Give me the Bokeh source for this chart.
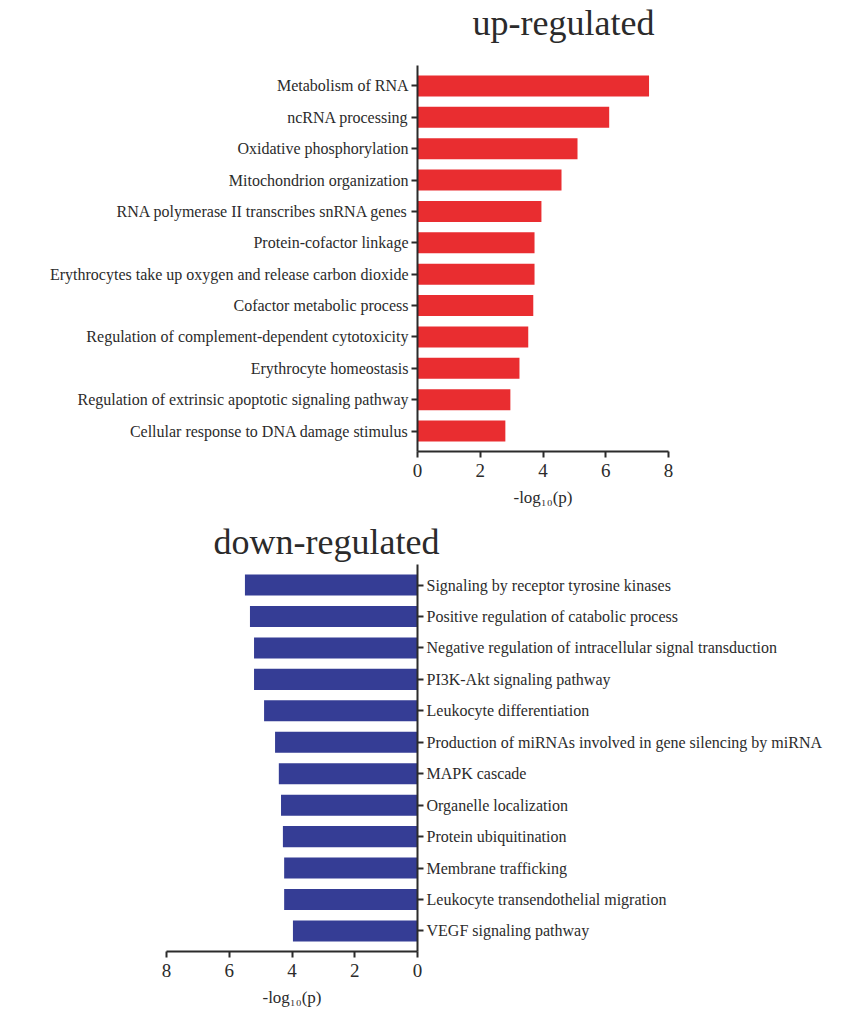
from bokeh.plotting import figure
from bokeh.models import FactorRange, Range1d, FixedTicker
from bokeh.embed import file_html
from bokeh.resources import INLINE

# Enriched terms, listed top to bottom, with -log10(p) scores
up_terms = [
    "Metabolism of RNA",
    "ncRNA processing",
    "Oxidative phosphorylation",
    "Mitochondrion organization",
    "RNA polymerase II transcribes snRNA genes",
    "Protein-cofactor linkage",
    "Erythrocytes take up oxygen and release carbon dioxide",
    "Cofactor metabolic process",
    "Regulation of complement-dependent cytotoxicity",
    "Erythrocyte homeostasis",
    "Regulation of extrinsic apoptotic signaling pathway",
    "Cellular response to DNA damage stimulus",
]
up_values = [7.38, 6.11, 5.10, 4.59, 3.95, 3.73, 3.73, 3.69, 3.53, 3.25, 2.96, 2.80]

down_terms = [
    "Signaling by receptor tyrosine kinases",
    "Positive regulation of catabolic process",
    "Negative regulation of intracellular signal transduction",
    "PI3K-Akt signaling pathway",
    "Leukocyte differentiation",
    "Production of miRNAs involved in gene silencing by miRNA",
    "MAPK cascade",
    "Organelle localization",
    "Protein ubiquitination",
    "Membrane trafficking",
    "Leukocyte transendothelial migration",
    "VEGF signaling pathway",
]
down_values = [5.50, 5.34, 5.21, 5.21, 4.89, 4.54, 4.42, 4.35, 4.29, 4.25, 4.25, 3.97]

x_ticks = [0, 2, 4, 6, 8]
x_label = "-log\u2081\u2080(p)"

SERIF = "Liberation Serif"
INK = "#2b2b2b"
UP_COLOR = "#e92d30"
DOWN_COLOR = "#353d95"
WIDTH = 862


def style_title(p, offset, standoff, valign):
    p.title.text_font = SERIF
    p.title.text_font_size = "36px"
    p.title.text_font_style = "normal"
    p.title.text_color = INK
    p.title.align = "left"
    p.title.offset = offset
    p.title.standoff = standoff
    p.title.vertical_align = valign


def style(p):
    p.outline_line_color = None
    p.xgrid.grid_line_color = None
    p.ygrid.grid_line_color = None
    p.background_fill_color = "white"
    p.border_fill_color = "white"
    for ax in p.axis:
        ax.axis_line_color = INK
        ax.axis_line_width = 2
        ax.major_tick_line_color = INK
        ax.major_tick_line_width = 2
        ax.major_tick_in = 0
        ax.minor_tick_line_color = None
        ax.major_label_text_color = INK
        ax.major_label_text_font = SERIF
    p.xaxis.ticker = FixedTicker(ticks=x_ticks)
    p.xaxis.major_tick_out = 6
    p.xaxis.major_label_text_font_size = "19px"
    p.xaxis.major_label_standoff = 6
    p.xaxis.axis_label = x_label
    p.xaxis.axis_label_text_font = SERIF
    p.xaxis.axis_label_text_font_size = "17px"
    p.xaxis.axis_label_text_font_style = "normal"
    p.xaxis.axis_label_text_color = INK
    p.xaxis.axis_label_standoff = 8
    p.yaxis.major_tick_out = 6
    p.yaxis.major_label_text_font_size = "16px"
    p.yaxis.major_label_standoff = 3


# Heading strip for the upper panel
header = figure(
    width=WIDTH, height=50,
    x_axis_location=None, y_axis_location=None,
    output_backend="svg", toolbar_location=None,
    min_border_left=417, min_border_right=194,
    min_border_top=0, min_border_bottom=0,
    title="up-regulated",
)
header.outline_line_color = None
header.grid.grid_line_color = None
header.border_fill_color = "white"
style_title(header, 55, 4, "top")

# Upper panel: up-regulated terms, bars growing to the right
up = figure(
    width=WIDTH, height=465,
    y_range=FactorRange(factors=up_terms[::-1], range_padding=0.0255),
    x_range=Range1d(0, 8),
    output_backend="svg", toolbar_location=None,
    min_border_left=417, min_border_right=194,
    min_border_top=15, min_border_bottom=64,
)
up.hbar(y=up_terms, right=up_values, left=0, height=0.67,
        fill_color=UP_COLOR, line_color=None)
style(up)

# Lower panel: down-regulated terms, mirrored axis with labels on the right
down = figure(
    width=WIDTH, height=494,
    y_range=FactorRange(factors=down_terms[::-1], range_padding=0.0255),
    x_range=Range1d(8, 0),
    y_axis_location="right",
    output_backend="svg", toolbar_location=None,
    min_border_left=166, min_border_right=445,
    min_border_top=49, min_border_bottom=58,
    title="down-regulated",
)
down.hbar(y=down_terms, right=down_values, left=0, height=0.67,
          fill_color=DOWN_COLOR, line_color=None)
style(down)
style_title(down, 47, 6, "bottom")

# Independent roots stacked on the page, each with its own frame
open("out.html", "w").write(file_html([header, up, down], INLINE))
